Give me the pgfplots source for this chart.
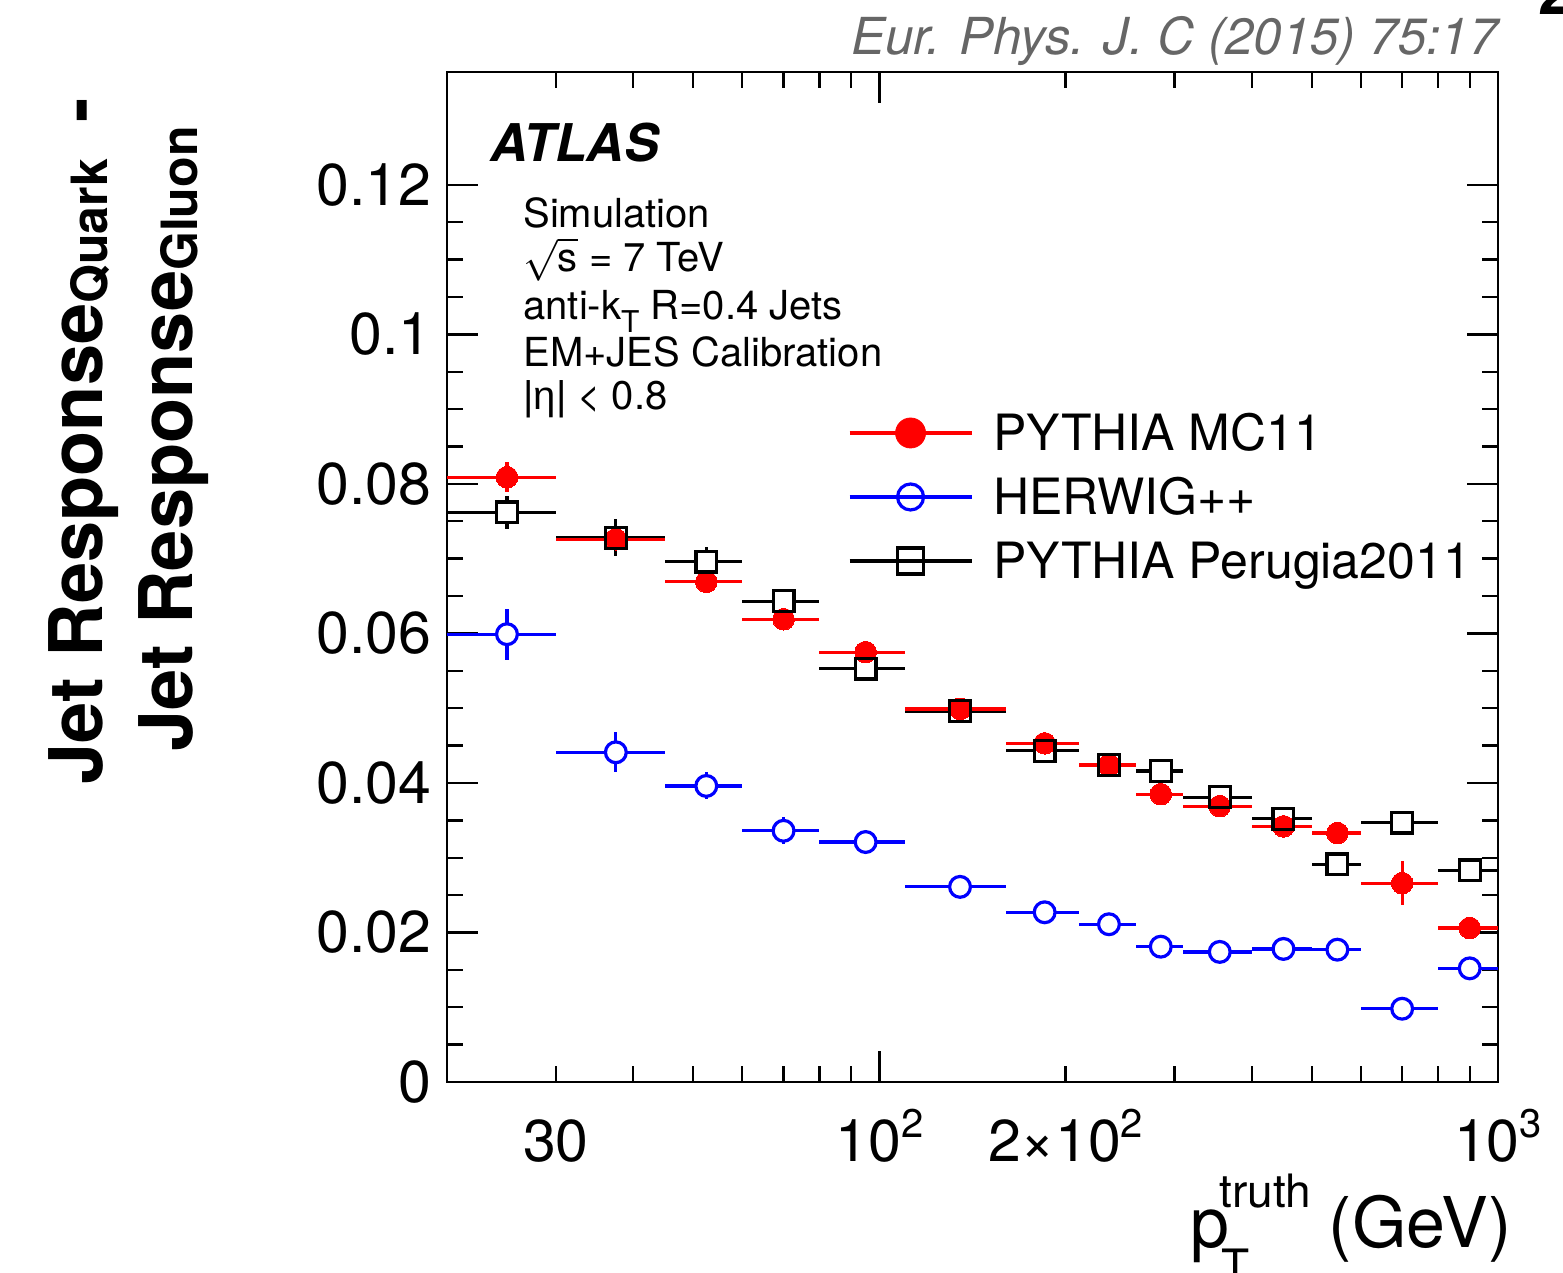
\documentclass[border=0pt]{standalone}
\usepackage{fontspec}
\setmainfont{TeX Gyre Heros}
\newfontfamily\greekfont{Liberation Sans}
\usepackage{pgfplots}
\pgfplotsset{compat=1.18}
\usepackage{pgfplotstable}
\newcommand{\fs}[1]{\fontsize{#1}{#1}\selectfont}

\pgfplotstableread{
x xm xp y ey
25 5 5 0.0809 0.0020
37.5 7.5 7.5 0.0726 0.0015
52.5 7.5 7.5 0.0669 0.0008
70 10 10 0.0619 0.0008
95 15 15 0.0575 0.0006
135 25 25 0.0499 0.0005
185 25 25 0.0453 0.0005
235 25 25 0.0424 0.0005
285 25 25 0.0385 0.0005
355 45 45 0.0369 0.0005
450 50 50 0.0342 0.0006
550 50 50 0.0333 0.0006
700 100 100 0.0266 0.0029
900 100 100 0.0206 0.0008
}\redtab

\pgfplotstableread{
x xm xp y ey
25 5 5 0.0599 0.0034
37.5 7.5 7.5 0.0441 0.0027
52.5 7.5 7.5 0.0396 0.0018
70 10 10 0.0336 0.0018
95 15 15 0.0321 0.0008
135 25 25 0.0261 0.0008
185 25 25 0.0227 0.0008
235 25 25 0.0211 0.0008
285 25 25 0.0181 0.0008
355 45 45 0.0174 0.0008
450 50 50 0.0178 0.0008
550 50 50 0.0177 0.0008
700 100 100 0.0098 0.0008
900 100 100 0.0152 0.0008
}\bluetab

\pgfplotstableread{
x xm xp y ey
25 5 5 0.0762 0.0022
37.5 7.5 7.5 0.0728 0.0025
52.5 7.5 7.5 0.0696 0.0020
70 10 10 0.0643 0.0011
95 15 15 0.0553 0.0008
135 25 25 0.0496 0.0005
185 25 25 0.0443 0.0005
235 25 25 0.0424 0.0005
285 25 25 0.0416 0.0005
355 45 45 0.0381 0.0005
450 50 50 0.0352 0.0005
550 50 50 0.0291 0.0007
700 100 100 0.0347 0.0006
900 100 100 0.0283 0.0008
}\blacktab

\pgfplotsset{
  ebars/.style={forget plot, only marks, mark=none,
    error bars/.cd, x dir=both, x explicit, y dir=both, y explicit,
    error mark=none, error bar style={line width=1.6pt, #1}},
}

\begin{document}
\begin{tikzpicture}
\begin{axis}[
  at={(0pt,0pt)}, anchor=south west,
  scale only axis, width=525.5pt, height=505pt,
  xmode=log, xmin=20, xmax=1000, ymin=0, ymax=0.1351,
  xtick={100,1000},
  xticklabels={10\raisebox{0.42em}{\fs{20}2}, 10\raisebox{0.42em}{\fs{20}3}},
  extra x ticks={30,200},
  extra x tick labels={30, 2×10\raisebox{0.42em}{\fs{20}2}},
  extra x tick style={major tick length=0pt},
  minor xtick={20,30,40,50,60,70,80,90,200,300,400,500,600,700,800,900},
  ytick={0,0.02,0.04,0.06,0.08,0.1,0.12},
  yticklabels={0,0.02,0.04,0.06,0.08,0.1,0.12},
  minor y tick num=3,
  tick align=inside,
  major tick length=15.5pt, minor tick length=8pt,
  tick style={black, line width=1.2pt},
  axis line style={line width=1.4pt},
  tick label style={font=\fs{29.5}},
  xticklabel style={anchor=base, yshift=-40pt},
  yticklabel style={anchor=east, inner sep=0pt, xshift=-7.5pt},
  legend style={at={(rel axis cs:0.3815,0.6604)}, anchor=north west,
    draw=none, fill=none, inner sep=0pt, outer sep=0pt,
    row sep=14pt, column sep=10pt, font=\fs{25},
    nodes={inner sep=0pt, text height=18pt, text depth=0pt}},
  legend cell align=left,
]
\addlegendimage{legend image code/.code={
  \draw[red, line width=1.6pt] (0pt,0pt) -- (61pt,0pt);
  \fill[red] (30.5pt,0pt) circle[radius=7.5pt];}}
\addlegendentry{PYTHIA MC11}
\addlegendimage{legend image code/.code={
  \draw[blue, line width=1.6pt] (0pt,0pt) -- (61pt,0pt);
  \draw[blue, line width=1.6pt] (30.5pt,0pt) circle[radius=6.5pt];}}
\addlegendentry{HERWIG++}
\addlegendimage{legend image code/.code={
  \draw[black, line width=1.6pt] (0pt,0pt) -- (61pt,0pt);
  \draw[black, line width=1.6pt] (24pt,-6.5pt) rectangle (37pt,6.5pt);}}
\addlegendentry{PYTHIA Perugia2011}

% error bars
\addplot[black, ebars=black] table[x=x, y=y, x error minus=xm, x error plus=xp, y error=ey] {\blacktab};
\addplot[blue, ebars=blue] table[x=x, y=y, x error minus=xm, x error plus=xp, y error=ey] {\bluetab};
\addplot[red, ebars=red] table[x=x, y=y, x error minus=xm, x error plus=xp, y error=ey] {\redtab};
% markers
\addplot[forget plot, only marks, mark=square*, mark size=5.2pt,
  mark options={fill=white, draw=black, line width=1.6pt}] table[x=x, y=y] {\blacktab};
\addplot[forget plot, only marks, mark=*, mark size=5.2pt,
  mark options={fill=white, draw=blue, line width=1.6pt}] table[x=x, y=y] {\bluetab};
\addplot[forget plot, only marks, mark=*, mark size=5.4pt,
  mark options={fill=red, draw=red, line width=0pt}] table[x=x, y=y] {\redtab};
\addplot[forget plot, only marks, mark=square, mark size=5.2pt,
  mark options={draw=black, line width=1.6pt}] table[x=x, y=y] {\blacktab};
\end{axis}

\node[anchor=base west, font=\bfseries\itshape\fs{26}, inner sep=0pt] at (21.5pt,460pt) {ATLAS};
\node[anchor=base west, font=\fs{20}, inner sep=0pt] at (38pt,427pt) {Simulation};
\node[anchor=base west, font=\fs{20}, inner sep=0pt] at (38pt,405pt) {$\sqrt{\mbox{s}}$ = 7 TeV};
\node[anchor=base west, font=\fs{20}, inner sep=0pt] at (38pt,381pt) {anti-k\raisebox{-6.5pt}{\fs{15}T} R=0.4 Jets};
\node[anchor=base west, font=\fs{20}, inner sep=0pt] at (38pt,357.5pt) {EM+JES Calibration};
\node[anchor=base west, font=\fs{20}, inner sep=0pt] at (38pt,336pt) {{\greekfont|η|} < 0.8};

\node[anchor=base east, text=black!60, font=\itshape\fs{25.5}, inner sep=0pt] at (525.5pt,513.5pt) {Eur. Phys. J. C (2015) 75:17};
\node[anchor=base west, font=\bfseries\fs{30}, inner sep=0pt] at (545.5pt,533.5pt) {2};

\node[rotate=90, anchor=base, font=\bfseries\fs{37}, inner sep=0pt] at (-172pt,320.5pt)
  {Jet Response\raisebox{-2.5pt}{\fs{25}Quark}\hspace{0.5em}-};
\node[rotate=90, anchor=base, font=\bfseries\fs{37}, inner sep=0pt] at (-127pt,321.5pt)
  {Jet Response\raisebox{-2.5pt}{\fs{25}Gluon}};

\node[anchor=base east, font=\fs{35}, inner sep=0pt] at (532.5pt,-83pt)
  {p\kern-4pt\rlap{\raisebox{-17.5pt}{\fs{23}T}}\kern-1pt\raisebox{20pt}{\fs{23}truth}\kern-1pt\ (GeV)};

\pgfresetboundingbox
\useasboundingbox (-223.5pt,-95.5pt) rectangle (558pt,541pt);
\end{tikzpicture}
\end{document}
